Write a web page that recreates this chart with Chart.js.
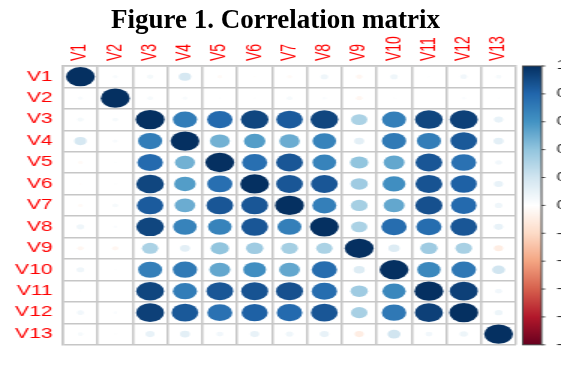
<!DOCTYPE html>
<html>
<head>
<meta charset="utf-8">
<script src="https://cdn.jsdelivr.net/npm/chart.js@4.4.0/dist/chart.umd.min.js"></script>
<style>
  html, body { margin: 0; background: #fff; }
  #page { position: relative; width: 561px; height: 371px; overflow: hidden; }
  #title {
    position: absolute; top: 6px; left: 0; width: 551px; text-align: center; line-height: 27px;
    font-family: "Liberation Serif", "Times New Roman", serif; font-weight: bold; font-size: 27px;
    color: #000; z-index: 2;
  }
  /* the plot is drawn narrow and stretched sideways, like the exported figure */
  #wrap { position: absolute; left: 0; top: 0; width: 374px; height: 371px;
          transform: scaleX(1.5); transform-origin: 0 0; }
</style>
</head>
<body>
<div id="page">
  <div id="title">Figure 1. Correlation matrix</div>
  <div id="wrap"><canvas id="corr" width="374" height="371"></canvas></div>
</div>
<script>
const varNames = ['V1', 'V2', 'V3', 'V4', 'V5', 'V6', 'V7', 'V8', 'V9', 'V10', 'V11', 'V12', 'V13'];

// one row of the correlation matrix per variable
const rV1  = [1, 0.03, 0.05, 0.18, -0.03, -0.01, -0.03, 0.07, -0.05, 0.07, 0.01, 0.06, 0.04];
const rV2  = [0.03, 1, 0.04, 0.03, 0.01, 0.01, 0.04, 0.02, -0.05, 0.01, 0.00, 0.02, 0.01];
const rV3  = [0.05, 0.04, 1, 0.70, 0.78, 0.92, 0.84, 0.92, 0.32, 0.69, 0.92, 0.94, 0.10];
const rV4  = [0.18, 0.03, 0.70, 1, 0.48, 0.56, 0.50, 0.67, 0.12, 0.71, 0.70, 0.85, 0.12];
const rV5  = [-0.03, 0.01, 0.78, 0.48, 1, 0.76, 0.86, 0.67, 0.40, 0.52, 0.86, 0.75, 0.06];
const rV6  = [-0.01, 0.01, 0.92, 0.56, 0.76, 1, 0.86, 0.86, 0.36, 0.62, 0.87, 0.82, 0.10];
const rV7  = [-0.03, 0.04, 0.84, 0.50, 0.86, 0.86, 1, 0.69, 0.34, 0.52, 0.88, 0.78, 0.07];
const rV8  = [0.07, 0.02, 0.92, 0.67, 0.67, 0.86, 0.69, 1, 0.32, 0.77, 0.77, 0.86, 0.10];
const rV9  = [-0.05, -0.05, 0.32, 0.12, 0.40, 0.36, 0.34, 0.32, 1, 0.15, 0.36, 0.33, -0.10];
const rV10 = [0.07, 0.01, 0.69, 0.71, 0.52, 0.62, 0.52, 0.77, 0.15, 1, 0.65, 0.72, 0.20];
const rV11 = [0.01, 0.00, 0.92, 0.70, 0.86, 0.87, 0.88, 0.77, 0.36, 0.65, 1, 0.94, 0.06];
const rV12 = [0.06, 0.02, 0.94, 0.85, 0.75, 0.82, 0.78, 0.86, 0.33, 0.72, 0.94, 1, 0.08];
const rV13 = [0.04, 0.01, 0.10, 0.12, 0.06, 0.10, 0.07, 0.10, -0.10, 0.20, 0.06, 0.08, 1];
const corrRows = [rV1, rV2, rV3, rV4, rV5, rV6, rV7, rV8, rV9, rV10, rV11, rV12, rV13];

const legendTicks = [1, 0.8, 0.6, 0.4, 0.2, 0, -0.2, -0.4, -0.6, -0.8, -1];

// RdBu palette from -1 to 1
const palette = ['#67001F', '#B2182B', '#D6604D', '#F4A582', '#FDDBC7', '#FFFFFF',
                 '#D1E5F0', '#92C5DE', '#4393C3', '#2166AC', '#053061'];

function hexToRgb(h) {
  const n = parseInt(h.slice(1), 16);
  return [(n >> 16) & 255, (n >> 8) & 255, n & 255];
}

function corrColor(v) {
  const t = (v + 1) / 2 * (palette.length - 1);
  const i = Math.min(Math.floor(t), palette.length - 2);
  const f = t - i;
  const a = hexToRgb(palette[i]), b = hexToRgb(palette[i + 1]);
  const c = a.map((x, k) => Math.round(x + (b[k] - x) * f));
  return `rgb(${c[0]},${c[1]},${c[2]})`;
}

const cells = [];
corrRows.forEach((row, i) => {
  row.forEach((v, j) => cells.push({ x: varNames[j], y: varNames[i], v: v }));
});

const labelFont = { family: 'Liberation Sans', size: 14 };
const gridStyle = { offset: true, color: '#c6c6c6', lineWidth: 1.5, drawTicks: false };

// colour legend bar next to the matrix, drawn against the cbar scale
const colorBar = {
  id: 'colorBar',
  afterDraw(chart) {
    const s = chart.scales.cbar;
    const ctx = chart.ctx;
    const x0 = s.left + 4.5, w = 12.5;
    const g = ctx.createLinearGradient(0, s.top, 0, s.bottom);
    palette.forEach((c, k) => g.addColorStop(1 - k / (palette.length - 1), c));
    ctx.save();
    ctx.fillStyle = g;
    ctx.fillRect(x0, s.top, w, s.bottom - s.top);
    ctx.strokeStyle = '#444';
    ctx.lineWidth = 1;
    ctx.strokeRect(x0, s.top, w, s.bottom - s.top);
    ctx.beginPath();
    s.ticks.forEach(t => {
      const y = s.getPixelForValue(t.value);
      ctx.moveTo(x0 + w, y);
      ctx.lineTo(x0 + w + 2.5, y);
    });
    ctx.stroke();
    ctx.restore();
  }
};

new Chart(document.getElementById('corr'), {
  type: 'scatter',
  data: {
    datasets: [{
      data: cells,
      pointBorderWidth: 0,
      pointRadius: ctx => {
        if (!ctx.raw) return 0;
        const cell = ctx.chart.scales.y.height / varNames.length;
        return 0.45 * cell * Math.sqrt(Math.abs(ctx.raw.v));
      },
      pointBackgroundColor: ctx => ctx.raw ? corrColor(ctx.raw.v) : '#fff'
    }]
  },
  options: {
    responsive: false,
    animation: false,
    events: [],
    layout: { padding: { top: 0, left: 0, right: 0, bottom: 5 } },
    plugins: { legend: { display: false }, tooltip: { enabled: false } },
    scales: {
      x: {
        type: 'category', labels: varNames, position: 'top', offset: true,
        grid: gridStyle,
        border: { color: '#c6c6c6', width: 1.5 },
        // rotated labels sit one line height to the left of the tick, shift them back
        ticks: { color: '#ff0000', font: labelFont, minRotation: 90, maxRotation: 90,
                 autoSkip: false, padding: 5, labelOffset: 16.8 },
        afterFit: s => { s.height = 66; }
      },
      y: {
        type: 'category', labels: varNames, offset: true,
        grid: gridStyle,
        border: { color: '#c6c6c6', width: 1.5 },
        ticks: { color: '#ff0000', font: labelFont, autoSkip: false, padding: 7 },
        afterFit: s => { s.width = 42; }
      },
      cbar: {
        type: 'linear', position: 'right', min: -1, max: 1,
        afterBuildTicks: s => { s.ticks = legendTicks.map(v => ({ value: v })); },
        grid: { display: false },
        border: { display: false },
        ticks: { color: '#222', font: { family: 'Liberation Sans', size: 12 }, padding: 19 },
        afterFit: s => { s.width = 30; }
      }
    }
  },
  plugins: [colorBar]
});
</script>
</body>
</html>
